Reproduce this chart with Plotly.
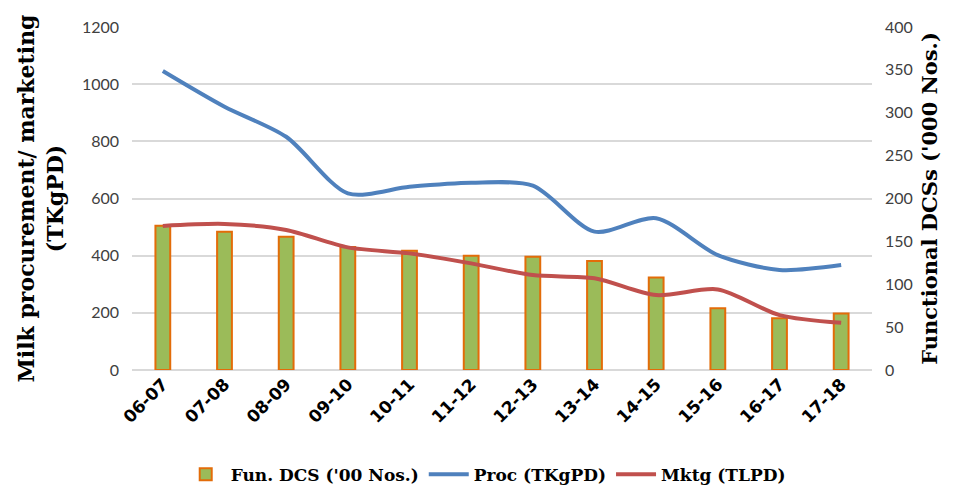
import plotly.graph_objects as go

years = ["06-07", "07-08", "08-09", "09-10", "10-11", "11-12",
         "12-13", "13-14", "14-15", "15-16", "16-17", "17-18"]
fun_dcs = [505, 484, 466, 430, 417, 400, 396, 381, 324, 216, 181, 198]
proc = [1046, 921, 816, 618, 641, 655, 645, 484, 531, 402, 350, 367]
mktg = [504, 511, 490, 429, 408, 373, 332, 321, 262, 282, 192, 165]

left_ticks = [0, 200, 400, 600, 800, 1000, 1200]
right_ticks = [0, 50, 100, 150, 200, 250, 300, 350, 400]

tick_font = dict(family="Lato", size=16, color="#404040")

fig = go.Figure()
fig.add_trace(go.Bar(
    x=years, y=fun_dcs, name="Fun. DCS ('00 Nos.)",
    marker=dict(color="#9BBB59", line=dict(color="#E36C09", width=2)),
    width=0.24,
))
fig.add_trace(go.Scatter(
    x=years, y=proc, name="Proc (TKgPD)", mode="lines",
    line=dict(color="#4F81BD", width=4, shape="spline", smoothing=0.8),
))
fig.add_trace(go.Scatter(
    x=years, y=mktg, name="Mktg (TLPD)", mode="lines",
    line=dict(color="#C0504D", width=4, shape="spline", smoothing=0.8),
))
# invisible trace to activate the secondary axis
fig.add_trace(go.Scatter(
    x=years, y=[v / 3 for v in fun_dcs], yaxis="y2", mode="lines",
    line=dict(width=0), showlegend=False, hoverinfo="skip", opacity=0,
))

fig.update_layout(
    width=952, height=480,
    margin=dict(l=124, r=88, t=19, b=118, autoexpand=False),
    paper_bgcolor="white", plot_bgcolor="white",
    showlegend=True,
    legend=dict(
        orientation="h", x=0.478, xanchor="center", y=-0.305, yanchor="middle",
        font=dict(family="DejaVu Serif", size=17, color="#000000", weight="bold"),
        traceorder="normal", itemwidth=40,
    ),
    xaxis=dict(
        type="category", tickangle=-45, automargin=False,
        tickfont=dict(family="DejaVu Sans", size=17, color="#000000", weight="bold"),
        showgrid=False, showline=False, ticks="",
    ),
    yaxis=dict(
        range=[0, 1200], tickvals=left_ticks, ticktext=[str(v) for v in left_ticks],
        tickfont=tick_font, showgrid=True, gridcolor="#D9D9D9", gridwidth=2,
        zeroline=True, zerolinecolor="#D9D9D9", zerolinewidth=2, automargin=False,
        title=dict(text="<b>Milk procurement/ marketing<br>(TKgPD)</b>",
                   font=dict(family="DejaVu Serif", size=22, color="#000000"), standoff=12),
        ticklabelstandoff=12,
    ),
    yaxis2=dict(
        range=[0, 400], tickvals=right_ticks, ticktext=[str(v) for v in right_ticks],
        overlaying="y", side="right", showgrid=False, zeroline=False, automargin=False,
        tickfont=tick_font,
        title=dict(text="<b>Functional DCSs ('000 Nos.)</b>",
                   font=dict(family="DejaVu Serif", size=21, color="#000000"), standoff=10),
        ticklabelstandoff=12,
    ),
    bargap=0.76,
)

fig.write_html("out.html")
